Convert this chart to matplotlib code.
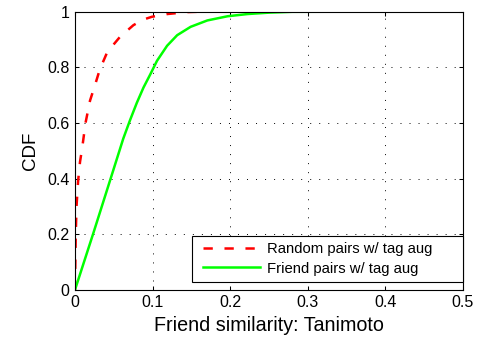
import matplotlib
matplotlib.use('Agg')
import matplotlib.pyplot as plt

# CDF of friend similarity (Tanimoto), with tag augmentation
rand_x = [0.0, 0.0005, 0.001, 0.002, 0.004, 0.0065, 0.0093, 0.0136, 0.0194,
          0.0265, 0.032, 0.0408, 0.0478, 0.058, 0.0753, 0.088, 0.099,
          0.119, 0.145, 0.17, 0.5]
rand_y = [0.0, 0.1, 0.2, 0.3, 0.39, 0.46, 0.51, 0.6, 0.68,
          0.742, 0.792, 0.849, 0.875, 0.909, 0.951, 0.971, 0.981,
          0.991, 0.998, 1.0, 1.0]

friend_x = [0.0, 0.0237, 0.0453, 0.0623, 0.071, 0.0797, 0.0883, 0.097,
            0.1057, 0.1187, 0.1317, 0.149, 0.1706, 0.1966, 0.2226, 0.25,
            0.28, 0.5]
friend_y = [0.0, 0.204, 0.394, 0.544, 0.61, 0.672, 0.727, 0.774,
            0.823, 0.877, 0.915, 0.945, 0.968, 0.983, 0.991, 0.996,
            0.999, 1.0]

xticks = [0, 0.1, 0.2, 0.3, 0.4, 0.5]
xtick_labels = ['0', '0.1', '0.2', '0.3', '0.4', '0.5']
yticks = [0, 0.2, 0.4, 0.6, 0.8, 1]
ytick_labels = ['0', '0.2', '0.4', '0.6', '0.8', '1']

plt.rcParams['font.family'] = ['Liberation Sans', 'DejaVu Sans']
plt.rcParams['lines.scale_dashes'] = False

fig = plt.figure(figsize=(4.85, 3.43), dpi=100)
ax = fig.add_axes([0.1546, 0.155, 0.8, 0.8114])

ax.plot(rand_x, rand_y, color='#ff0000', lw=1.8, linestyle=(0, (6.7, 8.4)),
        label='Random pairs w/ tag aug')
ax.plot(friend_x, friend_y, color='#00ff00', lw=1.8,
        label='Friend pairs w/ tag aug')

ax.set_xlim(0, 0.5)
ax.set_ylim(0, 1)
ax.set_xticks(xticks)
ax.set_xticklabels(xtick_labels)
ax.set_yticks(yticks)
ax.set_yticklabels(ytick_labels)
ax.tick_params(direction='in', length=3, width=0.75, labelsize=11.5,
               top=True, right=True, pad=4)
ax.grid(True, color='black', linestyle=(0, (0.7, 5.8)), linewidth=0.7)
for s in ax.spines.values():
    s.set_linewidth(0.8)

ax.set_xlabel('Friend similarity: Tanimoto', fontsize=14.2, labelpad=4)
ax.set_ylabel('CDF', fontsize=13.5, labelpad=6)

leg = ax.legend(loc='lower left', bbox_to_anchor=(0.302, 0.029, 0.697, 0.171),
                mode='expand', borderaxespad=0, fontsize=10.7, numpoints=2,
                fancybox=False, framealpha=1, edgecolor='black',
                handlelength=4.45, handletextpad=0.15, labelspacing=0.35,
                borderpad=0.42)
leg.get_frame().set_linewidth(0.8)

fig.savefig('out.png', dpi=100)
